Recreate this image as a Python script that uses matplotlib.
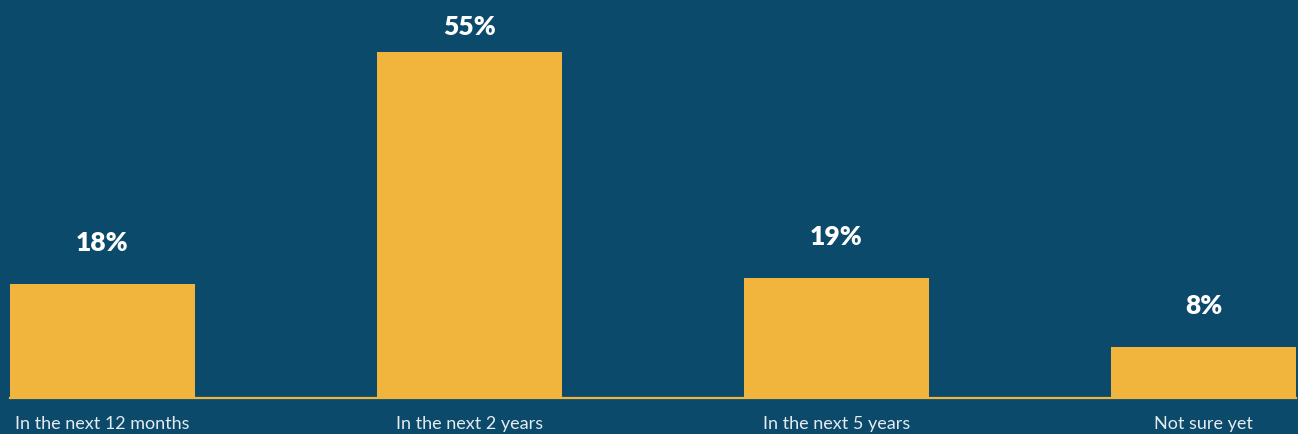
import matplotlib
matplotlib.use("Agg")
import matplotlib.pyplot as plt

categories = ["In the next 12 months", "In the next 2 years", "In the next 5 years", "Not sure yet"]
values = [18, 55, 19, 8]
value_labels = ["18%", "55%", "19%", "8%"]

BG = "#0b4a6b"
BAR = "#f1b43c"
TXT = "#ffffff"
TICK = "#e6ebef"

plt.rcParams["font.family"] = ["Lato", "DejaVu Sans"]

fig = plt.figure(figsize=(12.98, 4.34), dpi=100, facecolor=BG)
W, H = 1298, 434
ax = fig.add_axes([10 / W, 36.5 / H, 1286 / W, 397.5 / H])
ax.set_facecolor(BG)

x = list(range(len(values)))
ax.bar(x, values, width=0.504, color=BAR, zorder=2)

ax.set_xlim(-0.252, len(values) - 1 + 0.252)
ax.set_ylim(0, 397.5 / 6.28)

for xi, v, lab in zip(x, values, value_labels):
    y = min(v + 5.3, 57.7)
    ax.text(xi, y, lab, ha="center", va="baseline", color=TXT,
            fontsize=19, fontweight="heavy")

for s in ["top", "right", "left"]:
    ax.spines[s].set_visible(False)
ax.spines["bottom"].set_color(BAR)
ax.spines["bottom"].set_linewidth(1.6)
ax.spines["bottom"].set_zorder(3)

ax.set_yticks([])
ax.set_xticks(x)
ax.set_xticklabels(categories, color=TICK, fontsize=13, fontweight="normal")
ax.tick_params(axis="x", length=0, pad=13)

fig.savefig("out.png", dpi=100, facecolor=BG)
